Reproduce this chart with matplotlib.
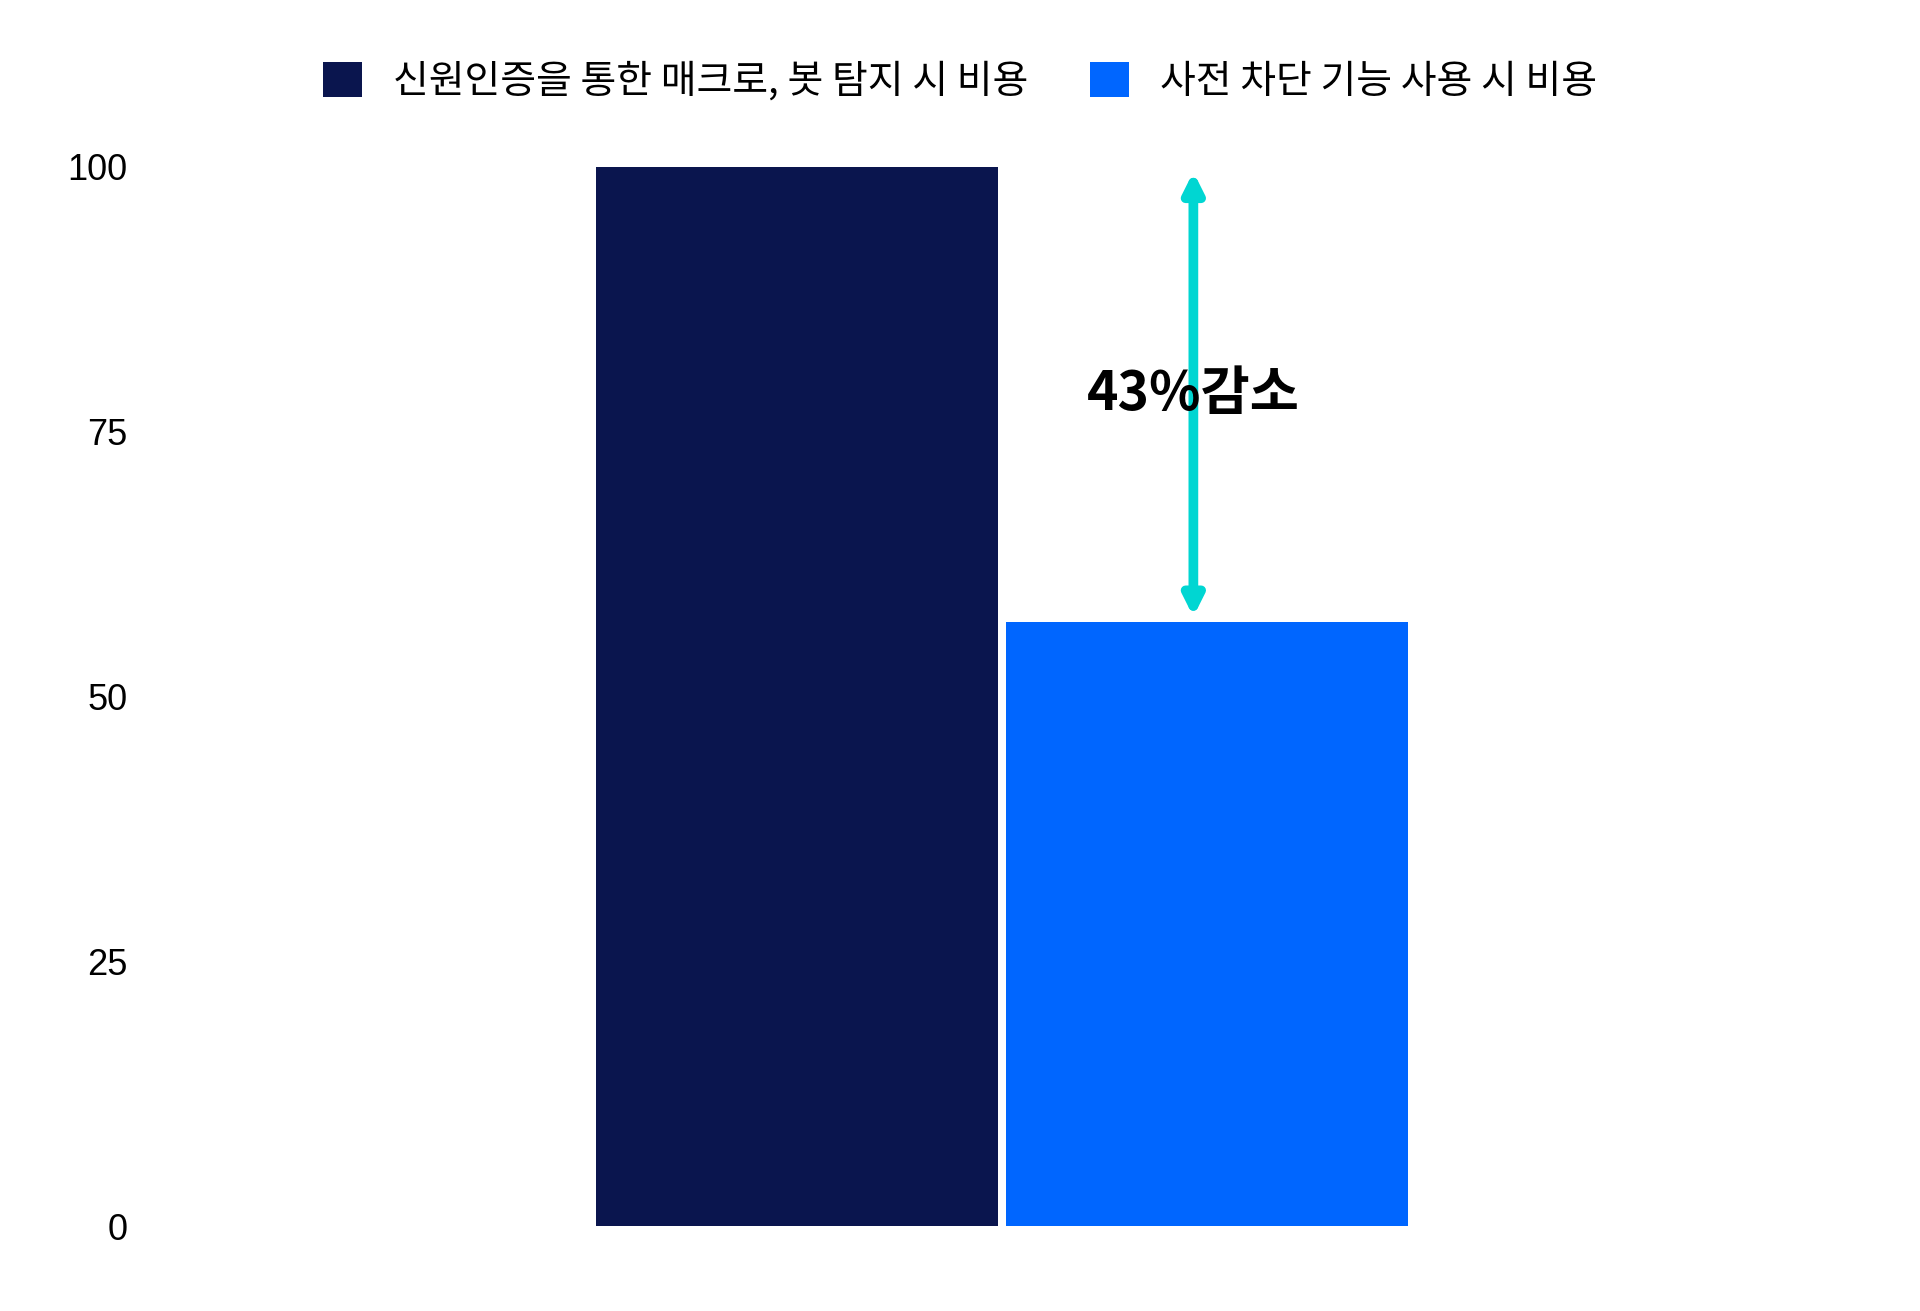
import matplotlib
matplotlib.use("Agg")
import matplotlib.pyplot as plt

plt.rcParams['font.family'] = ['Noto Sans CJK KR', 'DejaVu Sans']

series = ["신원인증을 통한 매크로, 봇 탐지 시 비용", "사전 차단 기능 사용 시 비용"]
values = [100, 57]
colors = ["#0A154E", "#0066FF"]
yticks = [0, 25, 50, 75, 100]
note = "43%감소"

W = 0.233
offsets = [-0.119, 0.119]

fig = plt.figure(figsize=(19.2, 13.11), dpi=100)
ax = fig.add_axes([140 / 1920, 1 - 1226 / 1311, 1724 / 1920, (1226 - 166.5) / 1311])

bars = []
for off, v, c, lab in zip(offsets, values, colors, series):
    b = ax.bar(off, v, width=W, color=c, label=lab, zorder=2)
    bars.append(b)

ax.set_xlim(-0.5, 0.5)
ax.set_ylim(0, 100)
ax.set_yticks(yticks)
ax.set_yticklabels([str(t) for t in yticks], fontsize=26, family=['Liberation Sans', 'DejaVu Sans'])
ax.tick_params(axis='y', length=0, pad=9)
ax.set_xticks([])
for s in ax.spines.values():
    s.set_visible(False)

# reduction arrow between the two bar heights
ax_x = 0.111
ax.annotate("", xy=(ax_x, values[0] - 0.5), xytext=(ax_x, values[1] + 0.5),
            arrowprops=dict(arrowstyle="<|-|>", color="#00D6D2", lw=7,
                            mutation_scale=28, shrinkA=0, shrinkB=0))
ax.text(ax_x, 78.5, note, ha="center", va="center", fontsize=38.5, fontweight="bold",
        color="black", zorder=5)

leg = fig.legend(handles=bars, labels=series, loc="center", bbox_to_anchor=(0.5, 1 - 82 / 1311),
                 ncol=2, frameon=False, fontsize=28, handlelength=1.0, handleheight=1.0,
                 handletextpad=0.8, columnspacing=1.6)

fig.savefig("out.png", dpi=100, facecolor="white")
